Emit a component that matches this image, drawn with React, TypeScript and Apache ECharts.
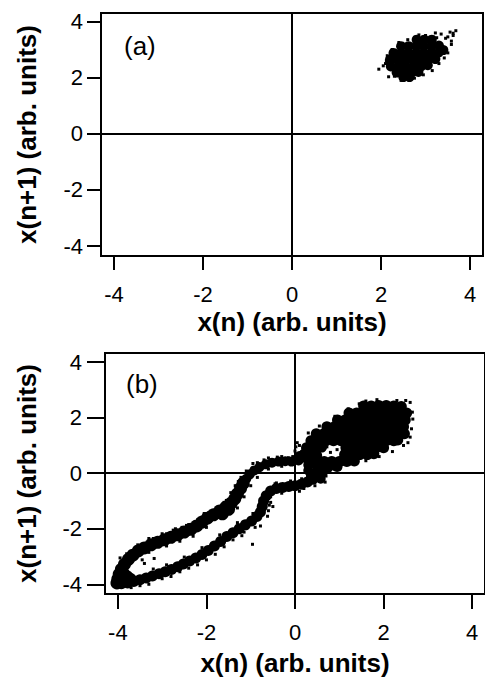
import React, { useEffect, useRef } from "react";
import * as echarts from "echarts";

// Axis ticks and titles shared by both return maps
const TICKS = [-4, -2, 0, 2, 4];
const X_TITLE = "x(n) (arb. units)";
const Y_TITLE = "x(n+1) (arb. units)";
const PANEL_A = "(a)";
const PANEL_B = "(b)";

// (a) fixed-point cloud: dense core
const A_CORE: [number, number][] = [
  [2.8, 3.35], [2.97, 3.35], [3.14, 3.35],
  [2.45, 3.12], [2.62, 3.12], [2.79, 3.12], [2.96, 3.12], [3.13, 3.12], [3.3, 3.14],
  [2.28, 2.88], [2.45, 2.88], [2.62, 2.88], [2.79, 2.88], [2.96, 2.88], [3.13, 2.88], [3.3, 2.9], [3.4, 2.98],
  [2.2, 2.64], [2.37, 2.64], [2.54, 2.64], [2.71, 2.64], [2.88, 2.64], [3.05, 2.64], [3.22, 2.66],
  [2.22, 2.4], [2.39, 2.4], [2.56, 2.4], [2.73, 2.4], [2.9, 2.4], [3.05, 2.44],
  [2.35, 2.18], [2.52, 2.18], [2.69, 2.18], [2.84, 2.2],
  [2.5, 2.02], [2.64, 2.02],
];

// (a) scattered outliers around the cloud
const A_FRINGE: [number, number][] = [
  [3.68, 3.67], [3.62, 3.58], [3.55, 3.62], [3.5, 3.45], [3.58, 3.3], [3.5, 2.88], [3.45, 3.05],
  [3.22, 3.59], [2.85, 3.52], [3.0, 3.5], [3.35, 3.55], [2.6, 3.35], [2.4, 3.25], [1.95, 2.3],
  [2.05, 2.42], [2.17, 2.03], [2.3, 2.05], [2.55, 1.96], [2.45, 1.9], [2.75, 1.98], [2.95, 2.1],
  [3.15, 2.25], [3.3, 2.5], [3.42, 2.7], [2.12, 2.6], [2.14, 2.78], [2.25, 3.0], [3.62, 3.5],
  [3.45, 3.4], [2.1, 2.5], [3.58, 3.18], [2.62, 1.92], [3.25, 3.42],
];

// (b) upper strand, thin part near the crossing
const B_UPPER_NEAR: [number, number][] = [
  [0.22, 0.56], [0.08, 0.46], [-0.08, 0.42], [-0.22, 0.43], [-0.37, 0.42], [-0.52, 0.38],
  [-0.66, 0.32], [-0.8, 0.22], [-0.92, 0.1], [-1.02, -0.04], [-1.1, -0.2],
];

// (b) upper strand, wide part towards the lower-left corner
const B_UPPER_FAR: [number, number][] = [
  [-1.17, -0.37], [-1.23, -0.55], [-1.3, -0.74], [-1.36, -0.92], [-1.44, -1.08], [-1.56, -1.22],
  [-1.7, -1.36], [-1.84, -1.5], [-1.98, -1.62], [-2.1, -1.76], [-2.22, -1.9], [-2.35, -2.02],
  [-2.5, -2.12], [-2.65, -2.22], [-2.8, -2.31], [-2.95, -2.4], [-3.1, -2.49], [-3.25, -2.58],
  [-3.4, -2.69], [-3.54, -2.8], [-3.66, -2.95], [-3.76, -3.1], [-3.85, -3.28], [-3.92, -3.46],
  [-3.97, -3.64], [-4.0, -3.82], [-3.95, -3.75], [-3.88, -3.6], [-3.8, -3.72], [-3.72, -3.82],
  [-4.02, -3.95], [-1.5, -1.3], [-1.64, -1.46],
];

// (b) lower strand of the loop
const B_LOWER: [number, number][] = [
  [-3.92, -3.98], [-3.78, -3.95], [-3.64, -3.9], [-3.5, -3.84], [-3.36, -3.77], [-3.22, -3.7],
  [-3.07, -3.62], [-2.93, -3.55], [-2.79, -3.47], [-2.65, -3.37], [-2.52, -3.27], [-2.38, -3.16],
  [-2.24, -3.05], [-2.1, -2.93], [-1.96, -2.78], [-1.82, -2.62], [-1.68, -2.46], [-1.54, -2.28],
  [-1.4, -2.14], [-1.26, -2.0], [-1.12, -1.86], [-0.98, -1.72], [-0.86, -1.56], [-0.78, -1.4],
  [-0.74, -1.2], [-0.71, -1.0], [-0.65, -0.81], [-0.55, -0.64], [-0.42, -0.55], [-0.28, -0.51],
  [-0.14, -0.48], [0.0, -0.45], [0.14, -0.4], [0.28, -0.32], [0.4, -0.22], [0.48, -0.06],
  [0.52, 0.1], [0.5, 0.26],
];

// (b) crossing between the strands and the upper-right cloud
const B_NECK: [number, number][] = [
  [0.3, 0.3], [0.4, 0.45], [0.55, 0.45], [0.62, 0.2], [0.62, 0.0], [0.58, -0.2],
  [0.2, 0.7], [0.35, 0.7], [0.5, 0.65], [0.1, 0.62], [0.3, 0.1], [0.36, -0.1],
];

// (b) dense cloud in the upper-right quadrant
const B_BLOB: [number, number][] = [
  [1.55, 2.42], [1.72, 2.42], [1.89, 2.44], [2.06, 2.44], [2.23, 2.42], [2.4, 2.4],
  [1.22, 2.17], [1.39, 2.17], [1.56, 2.17], [1.73, 2.17], [1.9, 2.17], [2.07, 2.17], [2.24, 2.17], [2.41, 2.17], [2.52, 2.17],
  [0.96, 1.92], [1.13, 1.92], [1.3, 1.92], [1.47, 1.92], [1.64, 1.92], [1.81, 1.92], [1.98, 1.92], [2.15, 1.92], [2.32, 1.92], [2.49, 1.92],
  [0.72, 1.67], [0.89, 1.67], [1.06, 1.67], [1.23, 1.67], [1.4, 1.67], [1.57, 1.67], [1.74, 1.67], [1.91, 1.67], [2.08, 1.67], [2.25, 1.67], [2.45, 1.67],
  [0.48, 1.42], [0.65, 1.42], [0.82, 1.42], [0.99, 1.42], [1.16, 1.42], [1.33, 1.42], [1.5, 1.42], [1.67, 1.42], [1.84, 1.42], [2.01, 1.42], [2.18, 1.42], [2.35, 1.42], [2.47, 1.42],
  [0.36, 1.17], [0.53, 1.17], [0.7, 1.17], [0.87, 1.17], [1.04, 1.17], [1.21, 1.17], [1.38, 1.17], [1.55, 1.17], [1.72, 1.17], [1.89, 1.17], [2.06, 1.17], [2.23, 1.17], [2.32, 1.2],
  [0.26, 0.92], [0.43, 0.92], [0.6, 0.94], [1.15, 0.92], [1.32, 0.92], [1.49, 0.92], [1.66, 0.92], [1.83, 0.92], [2.0, 0.92],
  [0.22, 0.67], [0.45, 0.67], [1.12, 0.67], [1.29, 0.67], [1.46, 0.67], [1.63, 0.67], [1.78, 0.7],
  [0.32, 0.42], [0.49, 0.42], [0.66, 0.42], [0.83, 0.42], [1.0, 0.42], [1.17, 0.42], [1.34, 0.44],
  [0.55, 0.22], [0.75, 0.22], [0.95, 0.24],
];

// (b) scattered outliers
const B_FRINGE: [number, number][] = [
  [-3.8, -2.9], [-3.95, -3.05], [-3.55, -2.58], [-3.2, -2.35], [-2.9, -2.18], [-2.7, -2.0],
  [-2.55, -1.95], [-2.4, -1.85], [-4.1, -3.75], [-4.08, -3.9], [-4.1, -4.02], [-3.7, -4.12],
  [-3.5, -4.05], [-3.0, -3.8], [-2.6, -3.55], [-2.2, -3.3], [-1.8, -2.92], [-1.4, -2.4],
  [-0.96, -2.56], [-3.4, -3.25], [-3.18, -3.07], [-3.45, -3.12], [-2.05, -1.45], [-1.6, -1.05],
  [-1.28, -0.3], [-0.95, 0.35], [-0.6, 0.55], [-0.3, 0.6], [-0.45, -0.38], [-0.55, -1.05],
  [-0.6, -1.35], [-0.78, -1.9], [-1.15, -2.12], [0.02, 0.95], [0.0, 0.8], [0.05, 1.1],
  [2.6, 2.55], [2.65, 2.2], [2.63, 1.6], [2.6, 1.3], [2.45, 1.0], [2.3, 2.62], [1.85, 2.65],
  [1.6, 2.6], [1.2, 2.32], [0.9, 2.05], [0.55, 1.7], [0.3, 1.45], [0.1, 1.0], [-0.05, 0.6],
  [2.2, 0.78], [1.9, 0.6], [1.6, 0.45], [2.55, 1.1], [2.66, 1.95], [2.5, 2.62], [1.45, 2.5],
  [0.8, 0.75], [0.95, 0.85], [0.72, 0.95], [0.7, -0.1], [0.68, -0.32], [0.2, -0.55],
  [-3.3, -2.35], [-3.0, -2.18], [-2.75, -2.05], [-2.45, -1.88], [-2.2, -1.68], [-1.95, -1.42],
  [-1.75, -1.25], [-1.55, -0.98], [-1.45, -0.7], [-1.35, -0.45], [-1.22, -0.15], [-1.1, 0.08],
  [-0.85, 0.38], [-0.7, 0.48], [-0.4, 0.58], [-0.15, 0.56],
  [-3.3, -2.85], [-2.9, -2.62], [-2.6, -2.45], [-2.3, -2.27], [-2.0, -1.95], [-1.3, -1.25],
  [-1.15, -0.85], [-1.0, -0.45], [-0.85, -0.15], [-0.6, 0.15], [-0.3, 0.25],
  [-3.2, -3.45], [-2.9, -3.3], [-2.5, -3.02], [-2.1, -2.68], [-1.7, -2.22], [-1.3, -1.78],
  [-0.95, -1.45], [-0.58, -1.15], [-0.55, -0.85], [-0.42, -0.35], [-0.1, -0.28], [0.15, -0.2],
  [-3.3, -4.0], [-2.8, -3.72], [-2.4, -3.42], [-2.0, -3.12], [-1.6, -2.65], [-1.2, -2.25],
  [-0.9, -1.95], [-0.62, -1.55], [-0.5, -1.2], [-0.3, -0.72], [0.1, -0.65], [0.45, -0.45],
];

const FONT = "'Liberation Sans', Arial, Helvetica, sans-serif";
const BLACK = "#000";

function xAxisFor(gridIndex: number, tickLen: number, nameGap: number) {
  return {
    type: "value",
    gridIndex,
    min: -4.29,
    max: 4.29,
    position: "bottom",
    axisLine: { show: false, onZero: false },
    axisTick: { show: true, inside: false, length: tickLen, customValues: TICKS, lineStyle: { color: BLACK, width: 2 } },
    axisLabel: { customValues: TICKS, margin: 27, fontSize: 22, color: BLACK, fontFamily: FONT },
    splitLine: { show: false },
    name: X_TITLE,
    nameLocation: "middle",
    nameGap,
    nameTextStyle: { fontSize: 26, fontWeight: "bold", color: BLACK, fontFamily: FONT },
  };
}

function yAxisFor(gridIndex: number, min: number, max: number, tickLen: number, labelMargin: number, nameGap: number) {
  return {
    type: "value",
    gridIndex,
    min,
    max,
    position: "left",
    axisLine: { show: false, onZero: false },
    axisTick: { show: true, inside: false, length: tickLen, customValues: TICKS, lineStyle: { color: BLACK, width: 2 } },
    axisLabel: { customValues: TICKS, margin: labelMargin, fontSize: 22, color: BLACK, fontFamily: FONT },
    splitLine: { show: false },
    name: Y_TITLE,
    nameLocation: "middle",
    nameGap,
    nameTextStyle: { fontSize: 26, fontWeight: "bold", color: BLACK, fontFamily: FONT },
  };
}

const zeroLines = {
  silent: true,
  symbol: ["none", "none"],
  label: { show: false },
  lineStyle: { color: BLACK, width: 2, type: "solid", opacity: 1 },
  emphasis: { disabled: true },
  data: [{ xAxis: 0 }, { yAxis: 0 }],
};

function dots(data: [number, number][], idx: number, size: number, symbol = "circle", withZero = false) {
  const s: any = {
    type: "scatter",
    xAxisIndex: idx,
    yAxisIndex: idx,
    data,
    symbol,
    symbolSize: size,
    itemStyle: { color: BLACK, opacity: 1 },
    emphasis: { disabled: true },
    silent: true,
  };
  if (withZero) s.markLine = zeroLines;
  return s;
}

export default function App() {
  const ref = useRef<HTMLDivElement>(null);

  useEffect(() => {
    if (!ref.current) return;
    const chart = echarts.init(ref.current, null, { renderer: "svg" });
    chart.setOption({
      animation: false,
      backgroundColor: "#fff",
      grid: [
        { left: 101, top: 13, width: 382, height: 243, show: true, borderColor: BLACK, borderWidth: 2, backgroundColor: "transparent" },
        { left: 105, top: 353, width: 382, height: 243, show: true, borderColor: BLACK, borderWidth: 2, backgroundColor: "transparent" },
      ],
      xAxis: [xAxisFor(0, 14, 53), xAxisFor(1, 15, 56)],
      yAxis: [yAxisFor(0, -4.35, 4.3, 14, 18, 61), yAxisFor(1, -4.35, 4.33, 18, 23, 65)],
      graphic: [
        { type: "text", left: 124, top: 33, style: { text: PANEL_A, fontSize: 26, fontFamily: FONT, fill: BLACK } },
        { type: "text", left: 126, top: 371, style: { text: PANEL_B, fontSize: 26, fontFamily: FONT, fill: BLACK } },
      ],
      series: [
        dots(A_CORE, 0, 10, "circle", true),
        dots(A_FRINGE, 0, 3, "rect"),
        dots(B_UPPER_NEAR, 1, 10, "circle", true),
        dots(B_UPPER_FAR, 1, 13),
        dots(B_LOWER, 1, 11),
        dots(B_NECK, 1, 10),
        dots(B_BLOB, 1, 11),
        dots(B_FRINGE, 1, 3, "rect"),
      ],
    });
    return () => chart.dispose();
  }, []);

  return <div ref={ref} style={{ position: "absolute", left: 0, top: 0, width: 485, height: 677 }} />;
}
